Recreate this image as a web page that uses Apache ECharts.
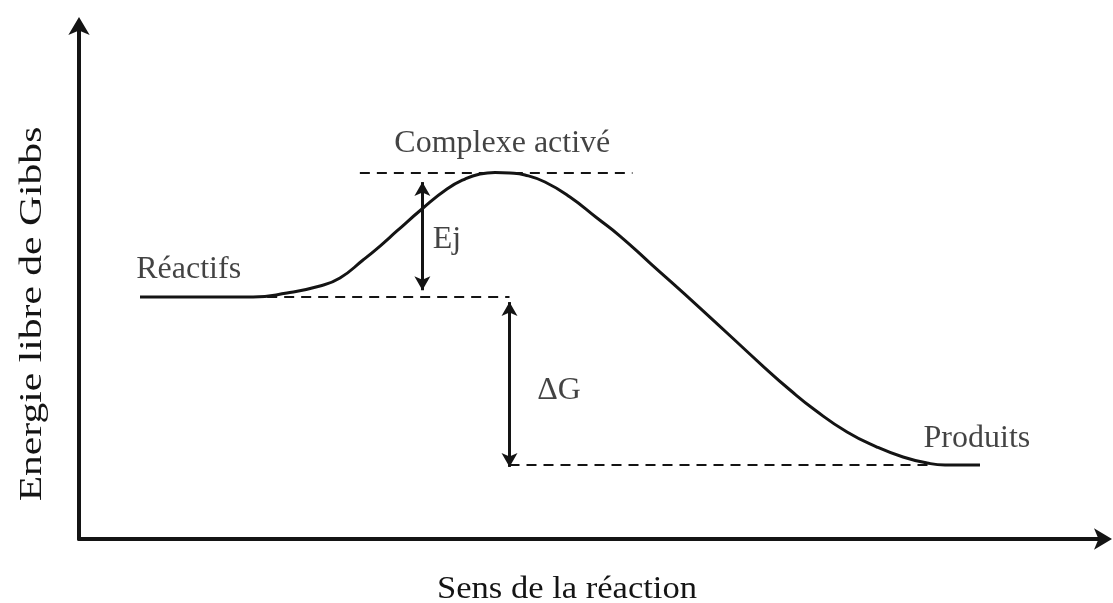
<!DOCTYPE html>
<html>
<head>
<meta charset="utf-8">
<script src="https://cdn.jsdelivr.net/npm/echarts@6/dist/echarts.min.js"></script>
<style>html,body{margin:0;padding:0;background:#fff;}#c{width:1113px;height:603px;}</style>
</head>
<body>
<div id="c"></div>
<script>
// Reaction coordinate (0-100) and Gibbs free energy (0-100, arbitrary units)
const curveX = [5.95,14.73,16.98,20.29,23.51,25.46,27.71,29.37,31.02,33.46,35.90,37.66,39.12,40.59,42.05,43.51,45.46,47.90,50.54,52.78,55.71,60.59,66.93,69.37,71.80,74.93,77.85,80.39,82.73,84.49,87.90];
const curveY = [46.99,46.99,46.99,47.77,49.13,50.68,54.17,56.89,59.81,64.08,67.96,69.90,70.87,71.17,71.07,70.68,69.32,66.41,62.33,58.83,53.59,44.85,33.20,28.93,25.05,20.78,17.86,15.92,14.76,14.37,14.37];

// Energy levels (dashed guides): [level, xStart, xEnd]
const levelActive = [71.1, 27.4, 54.0];
const levelReact  = [47.0, 16.7, 42.0];
const levelProd   = [14.4, 42.0, 83.0];

// Double arrows: [x, yTop, yBottom]
const arrowEj = [33.5, 69.3, 48.3];
const arrowDG = [42.0, 46.0, 14.0];

// Annotations
const labelTexts = ['Complexe activé', 'Réactifs', 'Ej', 'ΔG', 'Produits'];
const labelX     = [41.3, 10.7, 34.5, 44.7, 87.6];
const labelY     = [76.7, 52.4, 58.1, 28.9, 19.4];
const labelAlign = ['center', 'center', 'left', 'left', 'center'];

const xTitle = 'Sens de la réaction';
const yTitle = 'Energie libre de Gibbs';

const FONT = 'Liberation Serif';
const INK = '#141414';

const chart = echarts.init(document.getElementById('c'));

function seg(x1, y1, x2, y2) { return [{coord: [x1, y1]}, {coord: [x2, y2]}]; }

const option = {
  backgroundColor: '#fff',
  animation: false,
  grid: {left: 79, right: 9, top: 24, bottom: 64},
  xAxis: {
    type: 'value', min: 0, max: 100,
    axisLine: {show: true, symbol: ['none', 'arrow'], symbolSize: [16, 18], symbolOffset: [0, 8], lineStyle: {color: INK, width: 4}},
    axisTick: {show: false}, axisLabel: {show: false}, splitLine: {show: false}
  },
  yAxis: {
    type: 'value', min: 0, max: 100,
    axisLine: {show: true, symbol: ['none', 'arrow'], symbolSize: [16, 18], symbolOffset: [0, 7], lineStyle: {color: INK, width: 4}},
    axisTick: {show: false}, axisLabel: {show: false}, splitLine: {show: false}
  },
  series: [
    {
      type: 'line',
      data: curveX.map((x, i) => [x, curveY[i]]),
      smooth: 0.5,
      showSymbol: false,
      lineStyle: {color: INK, width: 3},
      z: 3,
      markLine: {
        silent: true,
        symbol: 'none',
        label: {show: false},
        lineStyle: {color: INK, width: 2, type: [10, 7]},
        data: [
          seg(levelActive[1], levelActive[0], levelActive[2], levelActive[0]),
          seg(levelReact[1], levelReact[0], levelReact[2], levelReact[0]),
          seg(levelProd[1], levelProd[0], levelProd[2], levelProd[0])
        ]
      }
    },
    {
      type: 'line',
      data: [],
      markLine: {
        silent: true,
        symbol: ['arrow', 'arrow'],
        symbolSize: [12, 14],
        label: {show: false},
        lineStyle: {color: INK, width: 3, type: 'solid'},
        itemStyle: {color: INK},
        data: [
          seg(arrowEj[0], arrowEj[1], arrowEj[0], arrowEj[2]),
          seg(arrowDG[0], arrowDG[1], arrowDG[0], arrowDG[2])
        ]
      }
    },
    {
      type: 'scatter',
      symbolSize: 0,
      silent: true,
      data: labelTexts.map((t, i) => ({
        value: [labelX[i], labelY[i]],
        label: {
          show: true, position: 'inside', formatter: t, align: labelAlign[i],
          verticalAlign: 'middle', fontFamily: FONT, fontSize: 32, color: INK
        }
      }))
    }
  ],
  graphic: [
    {type: 'text', x: 567, y: 590, scaleX: 1.08, style: {text: xTitle, fontFamily: FONT, fontSize: 32, fill: INK, align: 'center', verticalAlign: 'middle'}},
    {type: 'text', x: 33, y: 314, rotation: Math.PI / 2, scaleX: 1.3, style: {text: yTitle, fontFamily: FONT, fontSize: 32, fill: INK, align: 'center', verticalAlign: 'middle'}}
  ]
};
chart.setOption(option);
</script>
</body>
</html>
